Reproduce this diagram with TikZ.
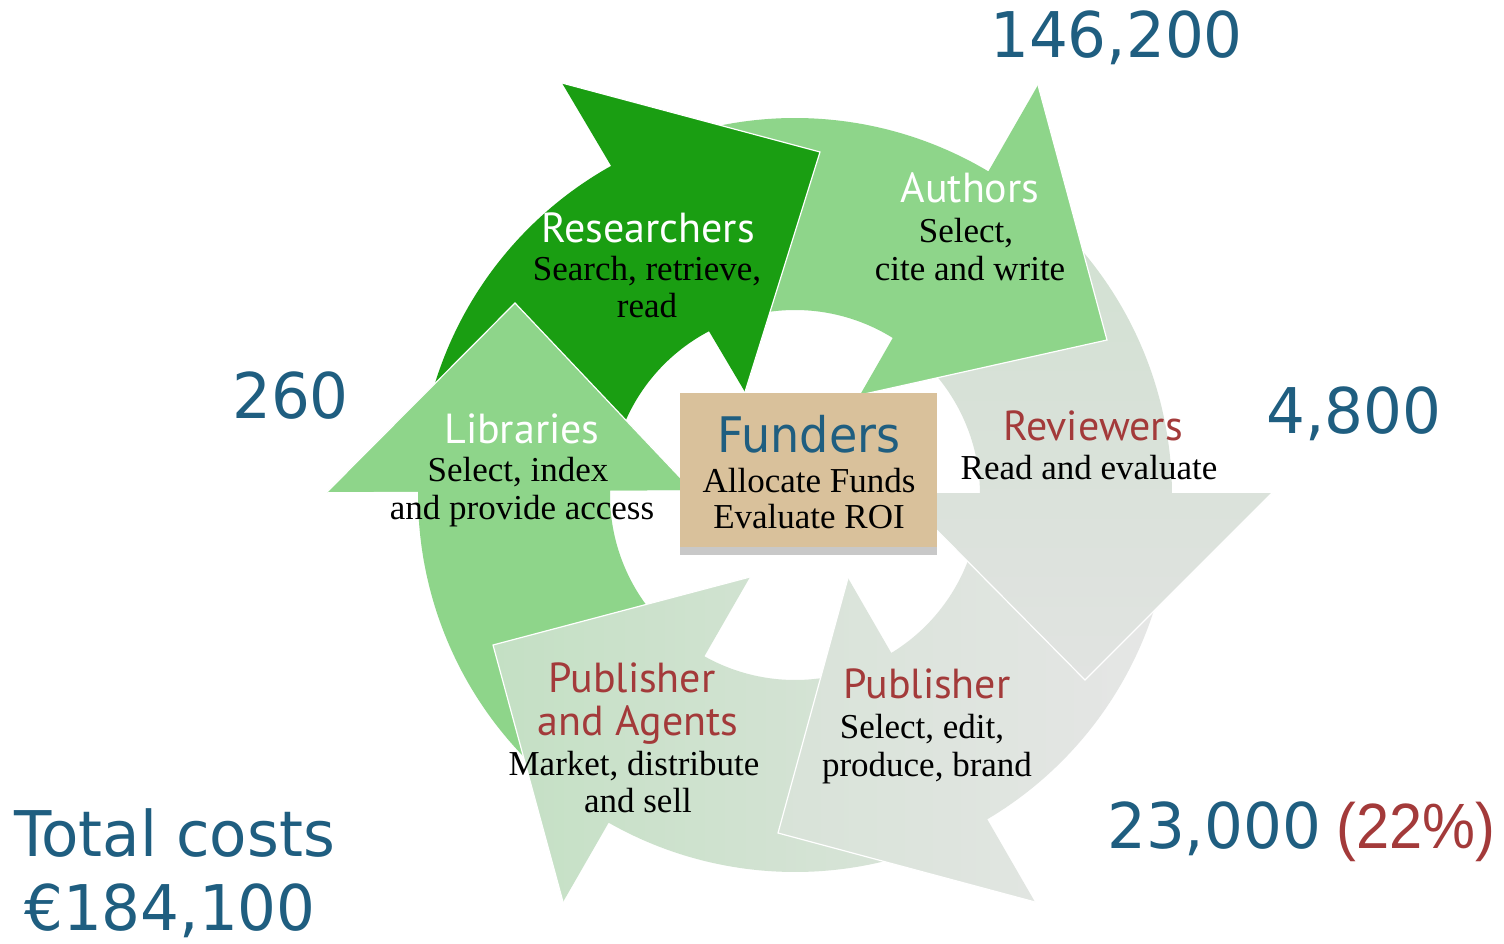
\documentclass[tikz,border=0pt]{standalone}
\usepackage{fontspec}
\setmainfont{Liberation Serif}
\newfontfamily\numfont[FakeStretch=0.97]{DejaVu Sans}
\newfontfamily\funfont[FakeStretch=0.94]{DejaVu Sans}
\newfontfamily\pctfont[FakeStretch=0.93]{Liberation Sans}
\newfontfamily\labfont{PT Sans}
\usetikzlibrary{calc}
\definecolor{dkgreen}{RGB}{26,158,18}
\definecolor{ltgreen}{RGB}{142,213,138}
\definecolor{boxtan}{RGB}{217,193,155}
\definecolor{shadowgrey}{RGB}{200,200,200}
\definecolor{numblue}{RGB}{31,94,128}
\definecolor{labred}{RGB}{163,58,58}
\definecolor{revtop}{RGB}{208,224,208}
\definecolor{revbot}{RGB}{225,227,225}
\definecolor{publeft}{RGB}{216,227,216}
\definecolor{pubright}{RGB}{230,230,230}
\definecolor{paleft}{RGB}{196,224,196}
\definecolor{paright}{RGB}{220,228,220}
% #1 fill options, #2 start angle, #3 end angle, #4 outer base point, #5 tip, #6 inner base point
\newcommand\ringarrow[6]{%
  \path[#1] plot[domain=#2:#3,samples=60] ({795+377*cos(\x)},{495+377*sin(\x)})
    -- plot[domain=#3:#2,samples=60] ({795+185*cos(\x)},{495+185*sin(\x)}) -- cycle
    (#4) -- (#5) -- (#6) -- cycle;
  \draw[white, line width=1.2pt, line join=miter] (#4) -- (#5) -- (#6);
}
\begin{document}
\begin{tikzpicture}[x=1pt,y=-1pt,
  num/.style={font=\numfont\fontsize{63}{70}\selectfont, text=numblue, anchor=base west, inner sep=0pt},
  lab/.style={font=\labfont\fontsize{42}{46}\selectfont, anchor=base, inner sep=0pt},
  desc/.style={font=\fontsize{35}{38}\selectfont, anchor=base, inner sep=0pt}]
\useasboundingbox (0,0) rectangle (1504,944);
\fill[white] (0,0) rectangle (1504,944);
% head points
\coordinate (LibO) at (327,492); \coordinate (LibT) at (515,303); \coordinate (LibI) at (692,490);
\coordinate (ResO) at (562,83);  \coordinate (ResT) at (820,152); \coordinate (ResI) at (745,392);
\coordinate (AutO) at (1038,85); \coordinate (AutT) at (1107,340); \coordinate (AutI) at (860,395);
\coordinate (RevO) at (1272,493); \coordinate (RevT) at (1085,680); \coordinate (RevI) at (900,493);
\coordinate (PubO) at (1035,902); \coordinate (PubT) at (778,833); \coordinate (PubI) at (848,578);
\coordinate (PaO) at (563,902);  \coordinate (PaT) at (493,645);  \coordinate (PaI) at (750,577);
% arrows
\ringarrow{fill=ltgreen}{121.5}{183.8}{LibO}{LibT}{LibI}
\ringarrow{left color=paleft, right color=paright}{61.1}{122.5}{PaO}{PaT}{PaI}
\ringarrow{left color=publeft, right color=pubright}{1.6}{62.1}{PubO}{PubT}{PubI}
\ringarrow{top color=revtop, bottom color=revbot}{-56.9}{2.6}{RevO}{RevT}{RevI}
\ringarrow{fill=ltgreen}{243.2}{304.1}{AutO}{AutT}{AutI}
\ringarrow{fill=dkgreen}{182.8}{244.2}{ResO}{ResT}{ResI}
\fill[ltgreen] (LibO) -- (LibT) -- (LibI) -- cycle;
\draw[white, line width=1.2pt] (LibO) -- (LibT) -- (LibI);
% Funders box
\fill[shadowgrey] (680,547) rectangle (937,555);
\node[fill=boxtan, minimum width=257pt, minimum height=154pt, inner sep=0pt, anchor=north west] (funbox) at (680,393) {};
\node[font=\funfont\fontsize{49}{50}\selectfont, text=numblue, anchor=base, inner sep=0pt] (fun) at (809,452) {Funders};
\node[desc] (fun1) at (809,492) {Allocate Funds};
\node[desc] (fun2) at (809,528) {Evaluate ROI};
% labels
\node[lab, text=white] (res) at (648,242) {Researchers};
\node[desc] (res1) at (647,280) {Search, retrieve,};
\node[desc] (res2) at (647,317) {read};
\node[lab, text=white] (aut) at (970,203) {Authors};
\node[desc] (aut1) at (966,242) {Select,};
\node[desc] (aut2) at (970,280) {cite and write};
\node[lab, text=white] (lib) at (522,443) {Libraries};
\node[desc] (lib1) at (518,481) {Select, index};
\node[desc] (lib2) at (522,519) {and provide access};
\node[lab, text=labred] (rev) at (1093,440) {Reviewers};
\node[desc] (rev1) at (1089,479) {Read and evaluate};
\node[lab, text=labred] (pa) at (632,692) {Publisher};
\node[lab, text=labred] (pa2) at (638,735) {and Agents};
\node[desc] (pa3) at (634,775) {Market, distribute};
\node[desc] (pa4) at (638,812) {and sell};
\node[lab, text=labred] (pub) at (927,698) {Publisher};
\node[desc] (pub1) at (922,738) {Select, edit,};
\node[desc] (pub2) at (927,776) {produce, brand};
% numbers
\node[num] (n1) at (990,58) {146,200};
\node[num] (n2) at (232,418) {260};
\node[num] (n3) at (1266,433) {4,800};
\node[num] (n4) at (1107,848) {23,000};
\node[font=\pctfont\fontsize{64}{70}\selectfont, text=labred, anchor=base west, inner sep=0pt] (n4b) at (1336,848) {(22\%)};
\node[num] (n5) at (14,856) {Total costs};
\node[num] (n6) at (24,930) {€184,100};
\end{tikzpicture}
\end{document}
